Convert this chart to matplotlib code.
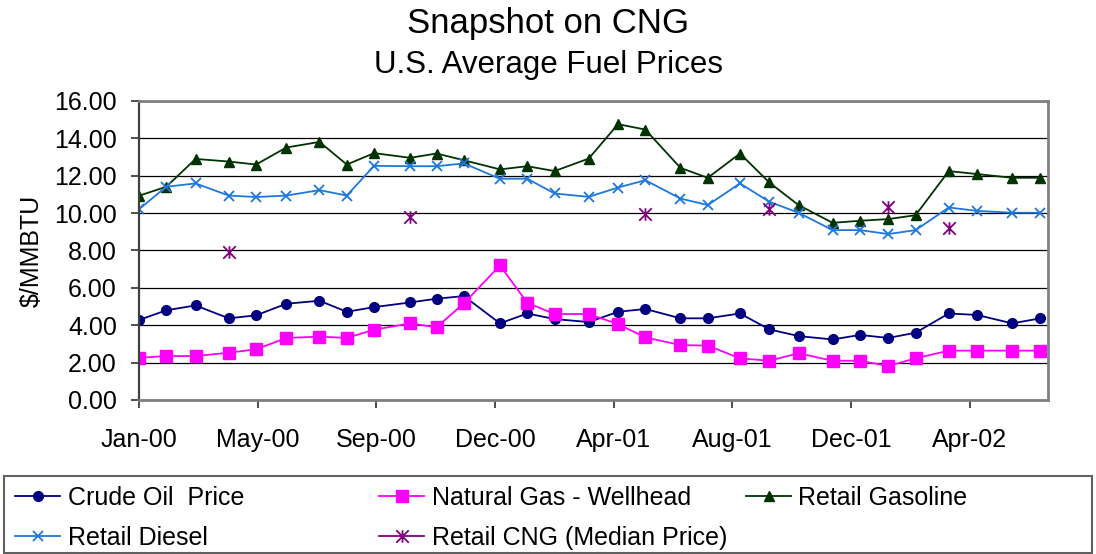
import matplotlib
matplotlib.use("Agg")
import matplotlib.pyplot as plt
import matplotlib.dates as mdates
from matplotlib.path import Path
from matplotlib.patches import Rectangle
import numpy as np
import pandas as pd

plt.rcParams["font.family"] = ["Liberation Sans", "DejaVu Sans"]

dates = ["2000-01-01", "2000-01-29", "2000-02-28", "2000-04-02", "2000-04-30",
         "2000-05-31", "2000-07-04", "2000-08-01", "2000-08-29", "2000-10-05",
         "2000-11-01", "2000-11-29", "2001-01-05", "2001-02-02", "2001-03-02",
         "2001-04-06", "2001-05-06", "2001-06-03", "2001-07-09", "2001-08-06",
         "2001-09-08", "2001-10-08", "2001-11-07", "2001-12-12", "2002-01-09",
         "2002-02-07", "2002-03-07", "2002-04-10", "2002-05-09", "2002-06-14",
         "2002-07-13"]

crude = [4.28, 4.80, 5.06, 4.37, 4.53, 5.15, 5.31, 4.72, 4.97, 5.22, 5.42,
         5.56, 4.10, 4.63, 4.33, 4.17, 4.72, 4.87, 4.37, 4.37, 4.63, 3.78,
         3.42, 3.24, 3.48, 3.32, 3.60, 4.63, 4.55, 4.10, 4.37]
natgas = [2.26, 2.35, 2.35, 2.53, 2.71, 3.32, 3.39, 3.32, 3.76, 4.10, 3.89,
          5.17, 7.20, 5.20, 4.60, 4.60, 4.06, 3.35, 2.94, 2.91, 2.23, 2.10,
          2.50, 2.10, 2.10, 1.82, 2.23, 2.64, 2.64, 2.64, 2.64]
gasoline = [10.93, 11.41, 12.90, 12.76, 12.60, 13.51, 13.81, 12.60, 13.21,
            12.96, 13.19, 12.83, 12.34, 12.51, 12.25, 12.92, 14.76, 14.47,
            12.42, 11.89, 13.19, 11.64, 10.43, 9.48, 9.59, 9.68, 9.89, 12.25,
            12.09, 11.89, 11.89]
diesel = [10.21, 11.41, 11.59, 10.94, 10.86, 10.94, 11.23, 10.94, 12.53,
          12.51, 12.51, 12.66, 11.84, 11.84, 11.05, 10.87, 11.37, 11.76,
          10.78, 10.43, 11.59, 10.61, 10.02, 9.09, 9.09, 8.88, 9.09, 10.30,
          10.12, 10.02, 10.02]
# CNG median price only reported for a few dates (gaps elsewhere)
cng = [None, None, None, 7.93, None, None, None, None, None, 9.80, None,
       None, None, None, None, None, None, 9.93, None, None, None, 10.20,
       None, None, None, 10.34, None, 9.23, None, None, None]

tick_labels = ["Jan-00", "May-00", "Sep-00", "Dec-00", "Apr-01", "Aug-01",
               "Dec-01", "Apr-02"]

x = mdates.date2num(pd.to_datetime(dates))
x0 = mdates.date2num(pd.Timestamp("2000-01-01"))
cng_arr = np.array([np.nan if v is None else v for v in cng])

# Excel-style star marker: vertical bar plus an X
star = Path([(0, -1), (0, 1), (-1, -1), (1, 1), (-1, 1), (1, -1)],
            [Path.MOVETO, Path.LINETO] * 3)

fig = plt.figure(figsize=(10.96, 5.54), dpi=100)
ax = fig.add_axes([0.1268, 0.2780, 0.8294, 0.5397])

l1, = ax.plot(x, crude, color="#000080", lw=1.3, marker="o", ms=7,
              label="Crude Oil  Price")
l2, = ax.plot(x, natgas, color="#FF00FF", lw=1.3, marker="s", ms=8.5,
              label="Natural Gas - Wellhead")
l3, = ax.plot(x, gasoline, color="#003300", lw=1.3, marker="^", ms=6.5,
              label="Retail Gasoline")
l4, = ax.plot(x, diesel, color="#1E78DC", lw=1.3, marker="x", ms=6.5,
              mew=1.3, label="Retail Diesel")
l5, = ax.plot(x, cng_arr, color="#800080", lw=1.3, marker=star, ms=9,
              mew=1.3, label="Retail CNG (Median Price)")

ax.set_ylim(0, 16)
ax.set_yticks(np.arange(0, 16.01, 2))
ax.yaxis.set_major_formatter(matplotlib.ticker.FormatStrFormatter("%.2f"))
ax.grid(axis="y", color="black", lw=0.9)
ax.set_axisbelow(True)

ax.set_xlim(x0, x0 + 931.7)
ax.set_xticks([x0 + k * 365 / 3 for k in range(len(tick_labels))])
ax.set_xticklabels(tick_labels)

ax.tick_params(labelsize=18, length=6, width=1.3, color="#404040")
ax.tick_params(axis="y", pad=10)
ax.tick_params(axis="x", pad=14)
for s in ["top", "right", "bottom"]:
    ax.spines[s].set_color("#808080")
    ax.spines[s].set_linewidth(2)
ax.spines["left"].set_color("#404040")
ax.spines["left"].set_linewidth(1.6)

ax.set_ylabel("$/MMBTU", fontsize=18, labelpad=7)

fig.text(0.5, 0.958, "Snapshot on CNG", ha="center", va="center", fontsize=25)
fig.text(0.5, 0.882, "U.S. Average Fuel Prices", ha="center", va="center",
         fontsize=22.5)

# legend frame across the bottom
frame = Rectangle((4 / 1096, 1 / 554), 1088 / 1096, (554 - 476) / 554 - 1 / 554,
                  transform=fig.transFigure, fill=False,
                  edgecolor="#606060", lw=1.5)
fig.patches.append(frame)

columns = [([l1, l4], 15), ([l2, l5], 379), ([l3], 746)]
for handles, px in columns:
    fig.legend(handles=handles, loc="upper left",
               bbox_to_anchor=(px / 1096, 1 - 486 / 554),
               frameon=False, fontsize=18, handlelength=1.8,
               handletextpad=0.3, labelspacing=0.63, borderpad=0,
               borderaxespad=0)

fig.savefig("out.png", dpi=100)
